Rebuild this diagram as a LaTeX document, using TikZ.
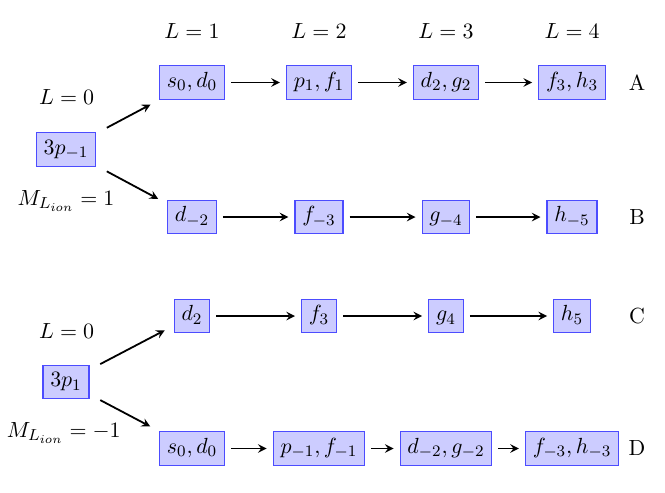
\documentclass[tikz,border=0pt,11pt]{standalone}
\usepackage{amsmath}
\usepackage{xcolor}
\usepackage{tikz}
\usetikzlibrary{arrows}
\tikzset{state/.style={draw=blue!70,fill=blue!20,semithick,text height=1.5ex,text depth=0.5ex},
  hop/.style={->,>=stealth,line width=0.9pt,shorten <=3pt,shorten >=3pt},
  fork/.style={->,>=stealth,line width=0.9pt,shorten <=6pt,shorten >=5pt}}

\begin{document}
\begin{tikzpicture}
\useasboundingbox (0,0) rectangle (11.687,-8.664);
% column headers
\node (l1) at (3.374,-0.545) {$L=1$};
\node (l2) at (5.606,-0.545) {$L=2$};
\node (l3) at (7.838,-0.545) {$L=3$};
\node (l4) at (10.053,-0.545) {$L=4$};
% upper block, M = 1
\node (lzu) at (1.17,-1.705) {$L=0$};
\node[state] (pm) at (1.16,-2.627) {$3p_{-1}$};
\node (mu) at (1.16,-3.533) {$M_{L_{ion}}=1$};
\node[state] (a1) at (3.374,-1.45) {$s_0,d_0$};
\node[state] (a2) at (5.606,-1.45) {$p_1,f_1$};
\node[state] (a3) at (7.838,-1.45) {$d_2,g_2$};
\node[state] (a4) at (10.053,-1.45) {$f_3,h_3$};
\node (ta) at (11.195,-1.45) {A};
\node[state] (b1) at (3.374,-3.814) {$d_{-2}$};
\node[state] (b2) at (5.606,-3.814) {$f_{-3}$};
\node[state] (b3) at (7.838,-3.814) {$g_{-4}$};
\node[state] (b4) at (10.053,-3.814) {$h_{-5}$};
\node (tb) at (11.195,-3.814) {B};
\draw[fork] (pm) -- (a1);
\draw[fork] (pm) -- (b1);
\draw[hop] (a1) -- (a2);
\draw[hop] (a2) -- (a3);
\draw[hop] (a3) -- (a4);
\draw[hop] (b1) -- (b2);
\draw[hop] (b2) -- (b3);
\draw[hop] (b3) -- (b4);
% lower block, M = -1
\node (lzl) at (1.17,-5.817) {$L=0$};
\node[state] (pp) at (1.16,-6.714) {$3p_1$};
\node (ml) at (1.12,-7.61) {$M_{L_{ion}}=-1$};
\node[state] (c1) at (3.374,-5.554) {$d_2$};
\node[state] (c2) at (5.606,-5.554) {$f_3$};
\node[state] (c3) at (7.838,-5.554) {$g_4$};
\node[state] (c4) at (10.053,-5.554) {$h_5$};
\node (tc) at (11.195,-5.554) {C};
\node[state] (d1) at (3.374,-7.882) {$s_0,d_0$};
\node[state] (d2) at (5.606,-7.882) {$p_{-1},f_{-1}$};
\node[state] (d3) at (7.838,-7.882) {$d_{-2},g_{-2}$};
\node[state] (d4) at (10.053,-7.882) {$f_{-3},h_{-3}$};
\node (td) at (11.195,-7.882) {D};
\draw[fork] (pp) -- (c1);
\draw[fork] (pp) -- (d1);
\draw[hop] (c1) -- (c2);
\draw[hop] (c2) -- (c3);
\draw[hop] (c3) -- (c4);
\draw[hop] (d1) -- (d2);
\draw[hop] (d2) -- (d3);
\draw[hop] (d3) -- (d4);
\end{tikzpicture}
\end{document}
